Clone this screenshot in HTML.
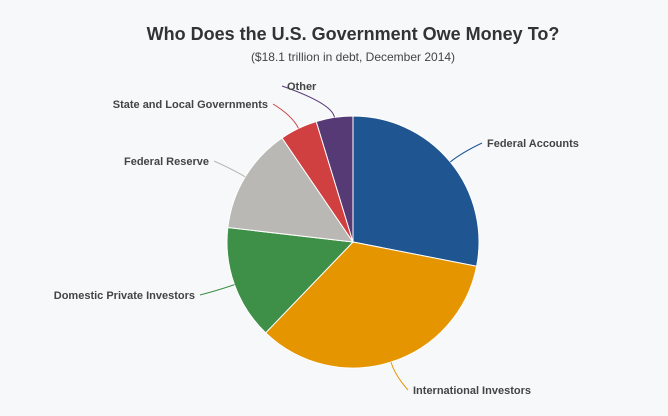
<!DOCTYPE html>
<html><head><meta charset="utf-8"><style>
body{margin:0;background:#f7f8fa;font-family:"Liberation Sans",sans-serif;}
svg{display:block}
</style></head><body>
<svg width="668" height="416">
<rect width="668" height="416" fill="#f7f8fa"/>
<text x="353" y="40" text-anchor="middle" font-size="18" font-weight="bold" fill="#333">Who Does the U.S. Government Owe Money To?</text>
<text x="353" y="61" text-anchor="middle" font-size="12" fill="#444">($18.1 trillion in debt, December 2014)</text>
<g id="pie"></g>
</svg>
<script>
const categories=["Federal Accounts","International Investors","Domestic Private Investors","Federal Reserve","State and Local Governments","Other"];
const values=[28,34,14.6,13.6,4.8,4.7];
const colors=["#1f5591","#e59500","#3e8f47","#bab8b4","#d04040","#553a75"];
const labelPos=[[487,147,"start"],[413,394,"start"],[195,299,"end"],[209,165,"end"],[268,108,"end"],[287,90,"start"]];
const cx=353,cy=242,r=126;
const g=document.getElementById('pie');
const NS="http://www.w3.org/2000/svg";
const total=values.reduce((a,b)=>a+b,0);
function pt(a,rr){return [cx+rr*Math.sin(a),cy-rr*Math.cos(a)];}
let a0=0;
values.forEach((v,i)=>{
  const a1=a0+v/total*2*Math.PI;
  const p0=pt(a0,r),p1=pt(a1,r);
  const large=(a1-a0)>Math.PI?1:0;
  const path=document.createElementNS(NS,'path');
  path.setAttribute('d',`M${cx},${cy}L${p0[0]},${p0[1]}A${r},${r} 0 ${large} 1 ${p1[0]},${p1[1]}Z`);
  path.setAttribute('fill',colors[i]);path.setAttribute('stroke','#fff');path.setAttribute('stroke-width','1');
  
  
  g.appendChild(path);
  const am=(a0+a1)/2;
  const e=pt(am,r),e2=pt(am,r+14);
  const lp=labelPos[i];
  const lx=lp[2]==="start"?lp[0]-5:lp[0]+5, ly=lp[1]-4;
  const ln=document.createElementNS(NS,'path');
  ln.setAttribute('d',`M${e[0]},${e[1]}Q${e2[0]},${e2[1]} ${lx},${ly}`);
  ln.setAttribute('fill','none');ln.setAttribute('stroke',colors[i]);ln.setAttribute('stroke-width','1');
  
  
  g.appendChild(ln);
  const t=document.createElementNS(NS,'text');
  t.setAttribute('x',lp[0]);t.setAttribute('y',lp[1]);t.setAttribute('text-anchor',lp[2]);
  t.setAttribute('font-size','11');t.setAttribute('font-weight','bold');t.setAttribute('fill','#444');
  t.textContent=categories[i];
  
  
  g.appendChild(t);
  a0=a1;
});
</script>
</body></html>
